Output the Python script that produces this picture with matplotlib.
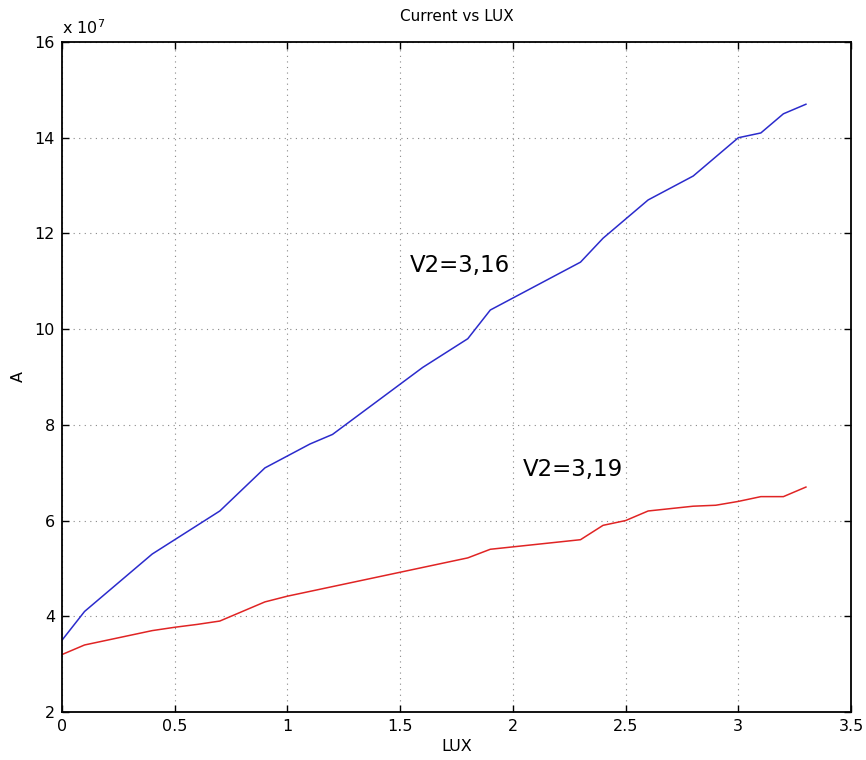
import matplotlib
matplotlib.use("Agg")
import matplotlib.pyplot as plt

plt.rcParams['font.family'] = ['DejaVu Sans']

# Illuminance (LUX) and current (x 1e7 A) for two supply voltages
lux = [0.0, 0.1, 0.2, 0.3, 0.4, 0.5, 0.6, 0.7, 0.8, 0.9,
       1.0, 1.1, 1.2, 1.3, 1.4, 1.5, 1.6, 1.7, 1.8, 1.9,
       2.0, 2.1, 2.2, 2.3, 2.4, 2.5, 2.6, 2.7, 2.8, 2.9,
       3.0, 3.1, 3.2, 3.3]
current_v316 = [3.5, 4.1, 4.5, 4.9, 5.3, 5.6, 5.9, 6.2, 6.65, 7.1,
                7.35, 7.6, 7.8, 8.15, 8.5, 8.85, 9.2, 9.5, 9.8, 10.4,
                10.65, 10.9, 11.15, 11.4, 11.9, 12.3, 12.7, 12.95, 13.2, 13.6,
                14.0, 14.1, 14.5, 14.7]
current_v319 = [3.2, 3.4, 3.5, 3.6, 3.7, 3.77, 3.83, 3.9, 4.1, 4.3,
                4.42, 4.52, 4.62, 4.72, 4.82, 4.92, 5.02, 5.12, 5.22, 5.4,
                5.45, 5.5, 5.55, 5.6, 5.9, 6.0, 6.2, 6.25, 6.3, 6.32,
                6.4, 6.5, 6.5, 6.7]

xticks = [0, 0.5, 1, 1.5, 2, 2.5, 3, 3.5]
xtick_labels = ['0', '0.5', '1', '1.5', '2', '2.5', '3', '3.5']
yticks = [2, 4, 6, 8, 10, 12, 14, 16]

fig = plt.figure(figsize=(8.66, 7.6), dpi=100)
ax = fig.add_axes([0.0716, 0.0632, 0.9111, 0.8815])

ax.plot(lux, current_v316, color='#2b2bcc', lw=1.1)
ax.plot(lux, current_v319, color='#e02424', lw=1.1)

ax.set_xlim(0, 3.5)
ax.set_ylim(2, 16)
ax.set_xticks(xticks)
ax.set_xticklabels(xtick_labels)
ax.set_yticks(yticks)

ax.grid(True, linestyle=(0, (1, 4)), color='#888888', linewidth=0.8)
ax.tick_params(direction='in', top=True, right=True, length=5,
               labelsize=11.5, width=1, pad=5)
for s in ax.spines.values():
    s.set_linewidth(1.3)

ax.set_title('Current vs LUX', fontsize=11, pad=15)
ax.set_xlabel('LUX', fontsize=11.5, labelpad=4)
ax.set_ylabel('A', fontsize=11.5, labelpad=6)

ax.text(0.0, 1.008, r'x 10$^7$', transform=ax.transAxes,
        fontsize=11.5, ha='left', va='bottom')

ax.text(1.545, 11.34, 'V2=3,16', fontsize=16.5, ha='left', va='center')
ax.text(2.045, 7.06, 'V2=3,19', fontsize=16.5, ha='left', va='center')

fig.savefig('out.png', dpi=100)
